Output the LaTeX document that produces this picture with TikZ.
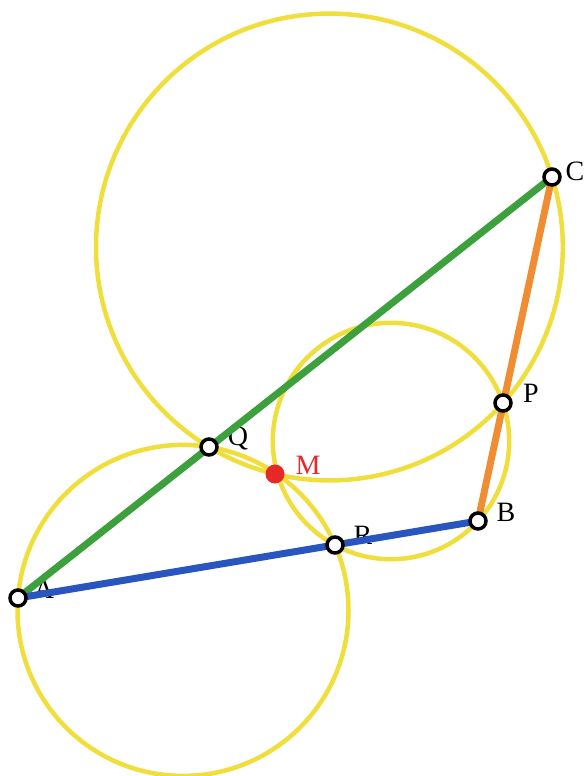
\documentclass[tikz,border=0pt]{standalone}
\usepackage{fontspec}
\setmainfont{Liberation Serif}
\definecolor{cyel}{RGB}{240,222,60}
\definecolor{cgreen}{RGB}{60,160,60}
\definecolor{cblue}{RGB}{40,85,190}
\definecolor{corange}{RGB}{240,140,50}
\definecolor{cred}{RGB}{230,40,40}
\tikzset{
  circ/.style={draw=cyel, line width=4.5pt},
  seg/.style={line width=7pt},
  pt/.style={circle, draw=black, fill=white, line width=3.5pt, minimum size=16pt, inner sep=0pt},
  lbl/.style={font=\fontsize{28}{32}\selectfont, inner sep=0pt}
}
\begin{document}
\begin{tikzpicture}[x=1pt,y=-1pt]
\useasboundingbox (0,0) rectangle (587,776);
\coordinate (O1) at (183,610.4);
\coordinate (O2) at (391,441);
\coordinate (O3) at (329.4,247);
\draw[circ] (O1) circle[radius=165.5pt];
\draw[circ] (O2) circle[radius=118.2pt];
\draw[circ] (O3) circle[radius=233.4pt];
\coordinate (A) at (18,598);
\coordinate (B) at (478,521);
\coordinate (C) at (552,177);
\coordinate (P) at (503,403);
\coordinate (Q) at (209,447);
\coordinate (R) at (335,545);
\coordinate (M) at (275,474);
\node[lbl] (lA) at (44,589) {A};
\node[lbl] (lB) at (506,512) {B};
\node[lbl] (lC) at (575,171) {C};
\node[lbl] (lP) at (531,393) {P};
\node[lbl] (lQ) at (238,438) {Q};
\node[lbl] (lR) at (363,535) {R};
\node[lbl, text=cred] (lM) at (308,465) {M};
\draw[seg, cgreen] (A) -- (C);
\draw[seg, cblue] (A) -- (B);
\draw[seg, corange] (B) -- (C);
\node[pt] (nA) at (A) {};
\node[pt] (nB) at (B) {};
\node[pt] (nC) at (C) {};
\node[pt] (nP) at (P) {};
\node[pt] (nQ) at (Q) {};
\node[pt] (nR) at (R) {};
\node[circle, fill=cred, minimum size=19pt, inner sep=0pt] (nM) at (M) {};
\end{tikzpicture}
\end{document}
